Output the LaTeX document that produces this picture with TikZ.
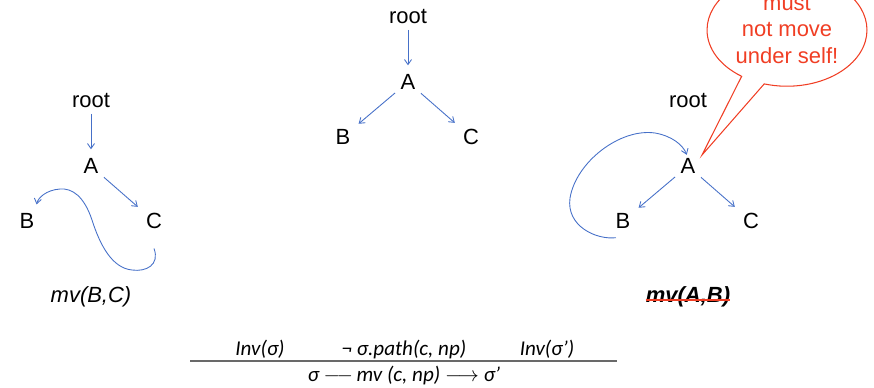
\documentclass[tikz,border=0pt]{standalone}
\usepackage{fontspec}
\setmainfont{Liberation Sans}
\newfontfamily\rulefont{Carlito}
\usetikzlibrary{arrows.meta,shapes.callouts}

\definecolor{linkblue}{RGB}{70,112,200}
\definecolor{warnred}{RGB}{240,62,36}
\definecolor{rulegray}{RGB}{105,105,105}

\begin{document}
\begin{tikzpicture}
  [
    x                  = 0.02cm,
    y                  = -0.02cm,
    every node/.style  = {font=\fontsize{12.5}{15}\selectfont, inner sep=3pt},
    link/.style        = {draw=linkblue, line width=0.5pt,
                          -{Straight Barb[angle=70:3.5pt]}, shorten >=2pt},
    caption/.style     = {font=\fontsize{12.5}{15}\selectfont\itshape},
    premise/.style     = {font=\rulefont\fontsize{12}{14}\selectfont\itshape},
    bubble/.style      = {ellipse callout, draw=warnred, line width=0.6pt,
                          text=warnred, align=center,
                          font=\fontsize{12.5}{15.3}\selectfont,
                          minimum width=3.18cm, minimum height=2.25cm,
                          callout pointer arc=18}
  ]
  \useasboundingbox (0,0) rectangle (874,388);
  \clip (0,0) rectangle (874,388);

  % left: moving B under C
  \node (rootL) at (91,101) {root};
  \node (aL)    at (91,166) {A};
  \node (bL)    at (27,221) {B};
  \node (cL)    at (154,221) {C};
  \draw[link] (rootL) -- (aL);
  \draw[link] (aL) -- (cL);
  \draw[link] ([yshift=-8pt]cL.south)
    .. controls (160,265) and (146,272) .. (132,270)
    .. controls (112,268) and (100,245) .. (92,220)
    .. controls (84,196) and (72,188) .. (60,189)
    .. controls (46,190) and (38,198) .. ([xshift=5pt]bL.north);
  \node[caption] (mvL) at (91,297) {mv(B,C)};

  % middle: the tree itself
  \node (rootM) at (408,17) {root};
  \node (aM)    at (408,82) {A};
  \node (bM)    at (343,137) {B};
  \node (cM)    at (471,137) {C};
  \draw[link] (rootM) -- (aM);
  \draw[link] (aM) -- (bM);
  \draw[link] (aM) -- (cM);

  % right: A moved under its own child
  \node (rootR) at (688,101) {root};
  \node (aR)    at (688,166) {A};
  \node (bR)    at (623,221) {B};
  \node (cR)    at (751,221) {C};
  \draw[link] (aR) -- (bR);
  \draw[link] (aR) -- (cR);
  \draw[link] ([xshift=-4pt,yshift=-2pt]bR.south)
    .. controls (596,240) and (566,226) .. (570,198)
    .. controls (576,162) and (620,128) .. (655,133)
    .. controls (672,136) and (683,145) .. ([yshift=-3pt]aR.north);
  \node[caption, font=\fontsize{12.5}{15}\selectfont\bfseries\itshape,
        inner xsep=0pt] (mvR) at (688,297) {mv(A,B)};
  \draw[warnred, line width=1.2pt]
    ([yshift=-1.5pt]mvR.west) -- ([yshift=-1.5pt]mvR.east);

  \coordinate (tipR) at (702,155);
  \node[bubble, callout absolute pointer={(tipR)}] (warn) at (787,30)
    {must\\not move\\under self!};

  % inference rule for mv
  \node[premise] (invS)  at (260,349) {Inv(σ)};
  \node[premise] (noPth) at (404,349) {¬ σ.path(c, np)};
  \node[premise] (invS2) at (547,349) {Inv(σ’)};
  \draw[rulegray, line width=1pt] (190,361) -- (617,361);
  \node[premise] (concl) at (404,375)
    {σ $\relbar\joinrel\relbar$\,mv (c, np) $\longrightarrow$ σ’};
\end{tikzpicture}
\end{document}
